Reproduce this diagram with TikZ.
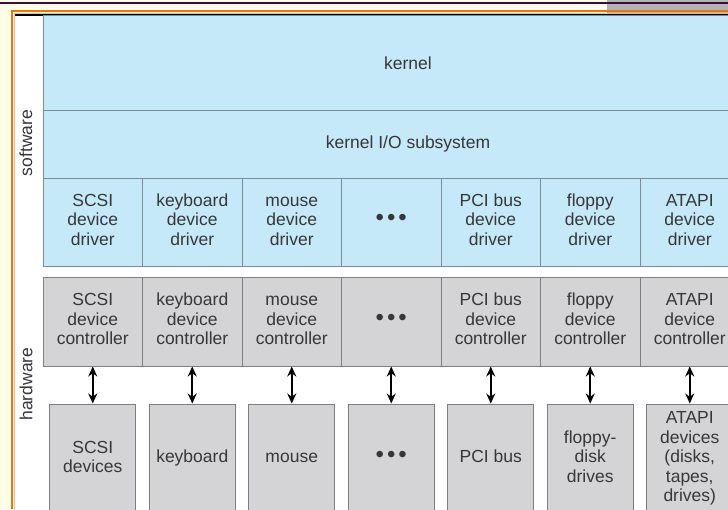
\documentclass[tikz,border=0pt]{standalone}
\usepackage{fontspec}
\setmainfont{Liberation Sans}
\usetikzlibrary{arrows.meta}
\definecolor{cream}{RGB}{255,253,232}
\definecolor{slidepurple}{RGB}{62,12,62}
\definecolor{slideorange}{RGB}{226,120,24}
\definecolor{lightorange}{RGB}{244,190,130}
\definecolor{slidegray}{RGB}{178,178,178}
\definecolor{swblue}{RGB}{198,233,250}
\definecolor{swline}{RGB}{122,140,150}
\definecolor{hwgray}{RGB}{212,212,214}
\definecolor{hwline}{RGB}{126,126,128}
\definecolor{txt}{RGB}{55,55,58}
\newcommand{\threedots}{{\fontsize{24}{19.5}\selectfont •\kern3pt•\kern3pt•}}
\tikzset{
  swbox/.style={draw=swline,fill=swblue,line width=1pt,inner sep=0pt},
  hwbox/.style={draw=hwline,fill=hwgray,line width=1pt,inner sep=0pt},
  lbl/.style={text=txt,font=\fontsize{17.5}{19.5}\selectfont,align=center},
  busarrow/.style={{Stealth[length=10pt,width=9pt]}-{Stealth[length=10pt,width=9pt]},line width=2.2pt}
}
\begin{document}
\begin{tikzpicture}[x=1pt,y=-1pt]
\useasboundingbox (0,0) rectangle (728,509);
\clip (0,0) rectangle (728,509);

% slide frame
\fill[cream] (0,0) rectangle (728,509);
\fill[slidegray] (607,0) rectangle (728,13);
\draw[slidepurple,line width=2pt] (0,2.5)--(728,2.5);
\fill[white] (15,14) rectangle (728,509);
\draw[slideorange,line width=2pt] (12,509)--(12,11)--(728,11);
\draw[lightorange,line width=1pt] (14.5,509)--(14.5,13)--(728,13);
\draw[black,line width=2pt] (15,14.5)--(728,14.5);

% software layers
\node[swbox,minimum width=730pt,minimum height=94.5pt,lbl] (kernel) at (408,62.75) {kernel};
\node[swbox,minimum width=730pt,minimum height=68pt,lbl] (kio) at (408,144) {kernel I/O subsystem};

\node[lbl,rotate=90] (software) at (26,143) {software};
\node[lbl,rotate=90] (hardware) at (26,384) {hardware};

% drivers, controllers, devices
\foreach \i/\drv/\ctl/\dev in {%
  1/{SCSI\\device\\driver}/{SCSI\\device\\controller}/{SCSI\\devices},
  2/{keyboard\\device\\driver}/{keyboard\\device\\controller}/{keyboard},
  3/{mouse\\device\\driver}/{mouse\\device\\controller}/{mouse},
  4/{\threedots}/{\threedots}/{\threedots},
  5/{PCI bus\\device\\driver}/{PCI bus\\device\\controller}/{PCI bus},
  6/{floppy\\device\\driver}/{floppy\\device\\controller}/{floppy-\\disk\\drives},
  7/{ATAPI\\device\\driver}/{ATAPI\\device\\controller}/{ATAPI\\devices\\(disks,\\tapes,\\drives)}}
{
  \pgfmathsetmacro{\cx}{43+99.5*(\i-0.5)}
  \node[swbox,minimum width=99.5pt,minimum height=88pt,lbl] (drv\i) at (\cx,222) {\strut\drv\strut};
  \node[hwbox,minimum width=99.5pt,minimum height=89pt,lbl] (ctl\i) at (\cx,321.5) {\strut\ctl\strut};
  \node[hwbox,minimum width=86pt,minimum height=110pt,lbl] (dev\i) at (\cx,459) {\strut\dev\strut};
  \draw[busarrow] (ctl\i.south) -- (dev\i.north);
}
\end{tikzpicture}
\end{document}
